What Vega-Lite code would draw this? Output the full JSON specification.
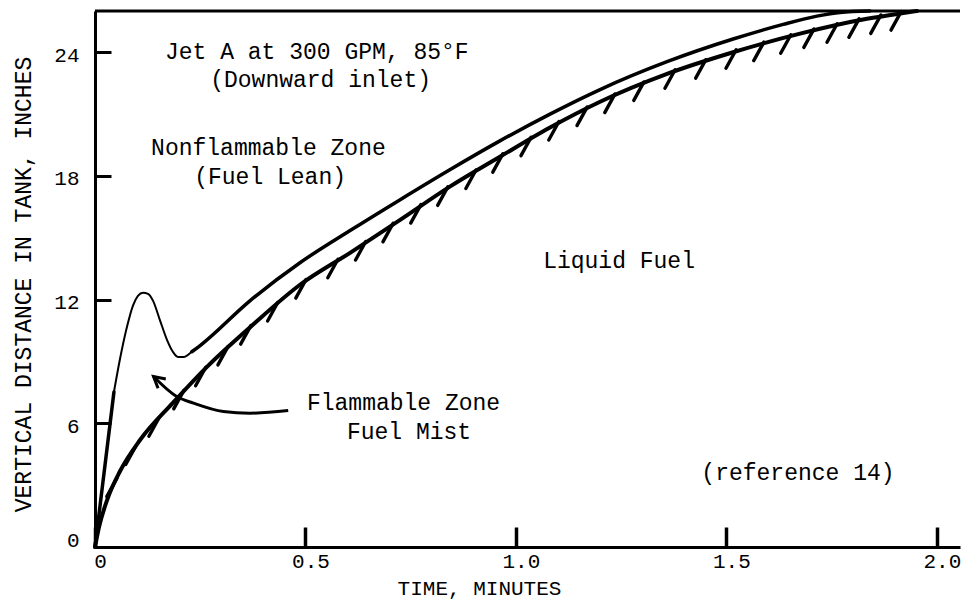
{
  "$schema": "https://vega.github.io/schema/vega-lite/v6.json",
  "width": 865,
  "height": 536,
  "autosize": "none",
  "padding": {"left": 95, "top": 11, "right": 1, "bottom": 55},
  "background": "white",
  "config": {"view": {"stroke": null}, "font": "Liberation Mono"},
  "datasets": {
    "curves": [
      {"series": "liquid", "t": 0, "h": 0},
      {"series": "liquid", "t": 0.01, "h": 1.0},
      {"series": "liquid", "t": 0.03, "h": 2.35},
      {"series": "liquid", "t": 0.06, "h": 3.7},
      {"series": "liquid", "t": 0.107, "h": 5.19},
      {"series": "liquid", "t": 0.185, "h": 6.99},
      {"series": "liquid", "t": 0.266, "h": 8.74},
      {"series": "liquid", "t": 0.375, "h": 10.78},
      {"series": "liquid", "t": 0.487, "h": 12.72},
      {"series": "liquid", "t": 0.606, "h": 14.27},
      {"series": "liquid", "t": 0.725, "h": 15.87},
      {"series": "liquid", "t": 0.843, "h": 17.48},
      {"series": "liquid", "t": 0.962, "h": 18.93},
      {"series": "liquid", "t": 1.081, "h": 20.35},
      {"series": "liquid", "t": 1.2, "h": 21.6},
      {"series": "liquid", "t": 1.359, "h": 22.95},
      {"series": "liquid", "t": 1.516, "h": 24.0},
      {"series": "liquid", "t": 1.675, "h": 24.9},
      {"series": "liquid", "t": 1.834, "h": 25.62},
      {"series": "liquid", "t": 1.913, "h": 25.88},
      {"series": "liquid", "t": 1.953, "h": 26.0},
      {"series": "upperA", "t": 0, "h": 0},
      {"series": "upperA", "t": 0.045, "h": 7.52},
      {"series": "upperB", "t": 0.045, "h": 7.52},
      {"series": "upperB", "t": 0.059, "h": 9.08},
      {"series": "upperB", "t": 0.076, "h": 10.68},
      {"series": "upperB", "t": 0.09, "h": 11.7},
      {"series": "upperB", "t": 0.102, "h": 12.18},
      {"series": "upperB", "t": 0.114, "h": 12.33},
      {"series": "upperB", "t": 0.126, "h": 12.28},
      {"series": "upperB", "t": 0.138, "h": 11.94},
      {"series": "upperB", "t": 0.154, "h": 11.02},
      {"series": "upperB", "t": 0.171, "h": 10.05},
      {"series": "upperB", "t": 0.185, "h": 9.47},
      {"series": "upperB", "t": 0.197, "h": 9.22},
      {"series": "upperB", "t": 0.211, "h": 9.22},
      {"series": "upperB", "t": 0.23, "h": 9.47},
      {"series": "upperB", "t": 0.249, "h": 9.76},
      {"series": "upperC", "t": 0.23, "h": 9.47},
      {"series": "upperC", "t": 0.249, "h": 9.76},
      {"series": "upperC", "t": 0.368, "h": 11.94},
      {"series": "upperC", "t": 0.487, "h": 13.79},
      {"series": "upperC", "t": 0.606, "h": 15.35},
      {"series": "upperC", "t": 0.725, "h": 16.85},
      {"series": "upperC", "t": 0.843, "h": 18.3},
      {"series": "upperC", "t": 0.962, "h": 19.7},
      {"series": "upperC", "t": 1.081, "h": 21.0},
      {"series": "upperC", "t": 1.2, "h": 22.19},
      {"series": "upperC", "t": 1.359, "h": 23.54},
      {"series": "upperC", "t": 1.516, "h": 24.64},
      {"series": "upperC", "t": 1.635, "h": 25.35},
      {"series": "upperC", "t": 1.715, "h": 25.75},
      {"series": "upperC", "t": 1.77, "h": 25.93},
      {"series": "upperC", "t": 1.841, "h": 26.0}
    ],
    "hatch": [
      {"t": 0.05, "h": 3.25}, {"t": 0.095, "h": 4.81}, {"t": 0.15, "h": 6.18},
      {"t": 0.209, "h": 7.51}, {"t": 0.261, "h": 8.63}, {"t": 0.314, "h": 9.64},
      {"t": 0.368, "h": 10.65}, {"t": 0.432, "h": 11.77}, {"t": 0.499, "h": 12.88},
      {"t": 0.575, "h": 13.87}, {"t": 0.641, "h": 14.73}, {"t": 0.706, "h": 15.61},
      {"t": 0.772, "h": 16.52}, {"t": 0.836, "h": 17.38}, {"t": 0.903, "h": 18.2},
      {"t": 0.967, "h": 18.99}, {"t": 1.034, "h": 19.79}, {"t": 1.1, "h": 20.55},
      {"t": 1.167, "h": 21.25}, {"t": 1.233, "h": 21.88}, {"t": 1.302, "h": 22.47},
      {"t": 1.376, "h": 23.06}, {"t": 1.449, "h": 23.55}, {"t": 1.521, "h": 24.03},
      {"t": 1.587, "h": 24.4}, {"t": 1.651, "h": 24.76}, {"t": 1.706, "h": 25.04},
      {"t": 1.761, "h": 25.29}, {"t": 1.813, "h": 25.53}, {"t": 1.865, "h": 25.72},
      {"t": 1.913, "h": 25.88}
    ],
    "arrow": [
      {"t": 0.459, "h": 6.62}, {"t": 0.368, "h": 6.49}, {"t": 0.305, "h": 6.57},
      {"t": 0.234, "h": 6.98}, {"t": 0.194, "h": 7.3}, {"t": 0.139, "h": 8.27}
    ],
    "arrowhead": [{"t": 0.139, "h": 8.27}],
    "border": [{"h": 26}],
    "labels": [
      {"t": 0.527, "h": 24.03, "label": "Jet A at 300 GPM, 85°F"},
      {"t": 0.536, "h": 22.67, "label": "(Downward inlet)"},
      {"t": 0.412, "h": 19.37, "label": "Nonflammable Zone"},
      {"t": 0.416, "h": 17.96, "label": "(Fuel Lean)"},
      {"t": 1.245, "h": 13.88, "label": "Liquid Fuel"},
      {"t": 1.67, "h": 3.59, "label": "(reference 14)"},
      {"t": 0.733, "h": 6.99, "label": "Flammable Zone"},
      {"t": 0.746, "h": 5.58, "label": "Fuel Mist"}
    ]
  },
  "layer": [
    {
      "data": {"name": "curves"},
      "transform": [{"filter": "datum.series === 'liquid'"}],
      "mark": {"type": "line", "interpolate": "monotone", "strokeWidth": 4, "color": "black", "strokeCap": "round"},
      "encoding": {
        "x": {
          "field": "t", "type": "quantitative",
          "scale": {"domain": [0, 2.055], "nice": false, "zero": false},
          "axis": {
            "orient": "bottom", "values": [0, 0.5, 1, 1.5, 2],
            "labelExpr": "datum.value === 0 ? '0' : format(datum.value, '.1f')",
            "grid": false, "domainWidth": 3, "domainColor": "black",
            "tickSize": -20, "tickWidth": 3.5, "tickColor": "black",
            "labelFont": "Liberation Mono", "labelFontSize": 21, "labelColor": "black",
            "labelPadding": 23, "labelOffset": 5, "labelFlush": false, "labelOverlap": false, "labelBound": false,
            "title": "TIME, MINUTES", "titleFont": "Liberation Mono", "titleFontSize": 21,
            "titleFontWeight": "normal", "titleColor": "black",
            "titleX": 384, "titleY": 41, "titleBaseline": "middle", "titleAlign": "center"
          }
        },
        "y": {
          "field": "h", "type": "quantitative",
          "scale": {"domain": [0, 26], "nice": false, "zero": false},
          "axis": {
            "orient": "left", "values": [0, 6, 12, 18, 24],
            "grid": false, "domainWidth": 3, "domainColor": "black",
            "tickSize": -16, "tickWidth": 3, "tickColor": "black",
            "labelFont": "Liberation Mono", "labelFontSize": 21, "labelColor": "black",
            "labelPadding": 32, "labelOffset": 3, "labelFlush": false, "labelOverlap": false, "labelBound": false,
            "labelBaseline": {"condition": {"test": "datum.value === 0", "value": "bottom"}, "value": "middle"},
            "title": "VERTICAL DISTANCE IN TANK, INCHES", "titleFont": "Liberation Mono", "titleFontSize": 23,
            "titleFontWeight": "normal", "titleColor": "black",
            "titleX": -72, "titleY": 273, "titleAngle": -90, "titleBaseline": "middle", "titleAlign": "center"
          }
        }
      }
    },
    {
      "data": {"name": "border"},
      "mark": {"type": "rule", "strokeWidth": 3, "color": "black"},
      "encoding": {"y": {"field": "h", "type": "quantitative"}}
    },
    {
      "data": {"name": "curves"},
      "transform": [{"filter": "datum.series === 'upperA'"}],
      "mark": {"type": "line", "strokeWidth": 3.5, "color": "black", "strokeCap": "round"},
      "encoding": {"x": {"field": "t", "type": "quantitative"}, "y": {"field": "h", "type": "quantitative"}}
    },
    {
      "data": {"name": "curves"},
      "transform": [{"filter": "datum.series === 'upperB'"}],
      "mark": {"type": "line", "interpolate": "monotone", "strokeWidth": 2, "color": "black"},
      "encoding": {"x": {"field": "t", "type": "quantitative"}, "y": {"field": "h", "type": "quantitative"}}
    },
    {
      "data": {"name": "curves"},
      "transform": [{"filter": "datum.series === 'upperC'"}],
      "mark": {"type": "line", "interpolate": "monotone", "strokeWidth": 3.5, "color": "black", "strokeCap": "round"},
      "encoding": {"x": {"field": "t", "type": "quantitative"}, "y": {"field": "h", "type": "quantitative"}}
    },
    {
      "data": {"name": "hatch"},
      "mark": {"type": "point", "shape": "M0.05,-0.1L-0.5,0.9", "size": 1369, "filled": false, "strokeWidth": 3.4, "color": "black", "opacity": 1, "strokeCap": "round"},
      "encoding": {"x": {"field": "t", "type": "quantitative"}, "y": {"field": "h", "type": "quantitative"}}
    },
    {
      "data": {"name": "arrow"},
      "mark": {"type": "line", "interpolate": "monotone", "strokeWidth": 3, "color": "black"},
      "encoding": {"x": {"field": "t", "type": "quantitative"}, "y": {"field": "h", "type": "quantitative"}}
    },
    {
      "data": {"name": "arrowhead"},
      "mark": {"type": "point", "shape": "M-0.55,1L0,0L0.55,1", "size": 484, "angle": 310, "filled": false, "strokeWidth": 3, "color": "black", "opacity": 1},
      "encoding": {"x": {"field": "t", "type": "quantitative"}, "y": {"field": "h", "type": "quantitative"}}
    },
    {
      "data": {"name": "labels"},
      "mark": {"type": "text", "font": "Liberation Mono", "fontSize": 23, "align": "center", "baseline": "middle", "color": "black"},
      "encoding": {
        "x": {"field": "t", "type": "quantitative"},
        "y": {"field": "h", "type": "quantitative"},
        "text": {"field": "label"}
      }
    }
  ]
}
